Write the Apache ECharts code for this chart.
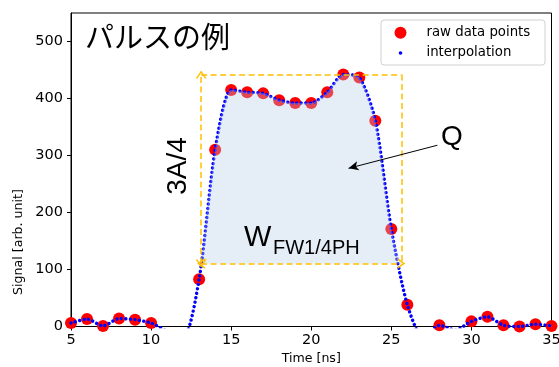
<!DOCTYPE html>
<html>
<head>
<meta charset="utf-8">
<script src="https://cdn.jsdelivr.net/npm/echarts@6/dist/echarts.min.js"></script>
<style>
html,body{margin:0;padding:0;background:#fff;}
#chart{width:559px;height:367px;}
</style>
</head>
<body>
<div id="chart"></div>
<script>
// ---- data ----
const timeNs = [5,6,7,8,9,10,11,12,13,14,15,16,17,18,19,20,21,22,23,24,25,26,27,28,29,30,31,32,33,34,35];
const rawSignal = [6,13,1,14,12,6,-8,-20,83,310,415,411,409,397,392,392,411,442,437,361,171,38,-20,2,-6,9,17,2,0,4,1];
const xTicks = [5,10,15,20,25,30,35];
const yTicks = [0,100,200,300,400,500];
const pulseHeight = 442;            // A
const quarterLevel = 110.5;         // A/4
const fwCross = [13.125, 25.625];   // where the curve crosses A/4
const qArrowFrom = [27.875, 318];
const qArrowTo = [22.33, 277.5];

const rawPairs = timeNs.map((t, i) => [t, rawSignal[i]]);
const fillPairs = [[fwCross[0], quarterLevel]]
  .concat(rawPairs.filter(p => p[0] > fwCross[0] && p[0] < fwCross[1]))
  .concat([[fwCross[1], quarterLevel]]);

const FONT = 'DejaVu Sans';
const ORANGE = '#ffbf00';
const CHEV = 'path://M0,10 L5,0 L10,10 L8.4,10 L5,3.2 L1.6,10 Z';
const SMOOTH = 0.25;

const chart = echarts.init(document.getElementById('chart'), null, {renderer: 'canvas'});
chart.setOption({
  animation: false,
  backgroundColor: '#fff',
  grid: {left: 71, right: 7.5, top: 13, bottom: 40.5, outerBoundsMode: 'none', containLabel: false,
    show: true, borderColor: '#000', borderWidth: 1, backgroundColor: 'transparent'},
  xAxis: {
    type: 'value', min: xTicks[0], max: xTicks[xTicks.length-1], interval: 5,
    name: 'Time [ns]', nameLocation: 'middle', nameGap: 25,
    nameTextStyle: {fontFamily: FONT, fontSize: 12.6, color: '#000'},
    axisLine: {show: true, onZero: false, lineStyle: {color: '#000', width: 1}},
    axisTick: {show: true, length: 4, lineStyle: {color: '#000', width: 1}},
    axisLabel: {fontFamily: FONT, fontSize: 14.5, color: '#000', margin: 6},
    splitLine: {show: false}
  },
  yAxis: {
    type: 'value', min: 0, max: 550, interval: 100,
    axisLine: {show: true, onZero: false, lineStyle: {color: '#000', width: 1}},
    axisTick: {show: true, length: 4, lineStyle: {color: '#000', width: 1}},
    axisLabel: {fontFamily: FONT, fontSize: 14.5, color: '#000', margin: 8, showMaxLabel: false},
    splitLine: {show: false}
  },
  series: [
    {
      name: 'raw data points', type: 'scatter', data: rawPairs, symbolSize: 12,
      itemStyle: {color: '#ff0000', opacity: 1}, z: 2, clip: true
    },
    {
      name: 'interpolation', type: 'line', data: rawPairs, smooth: SMOOTH, showSymbol: false,
      clip: true, z: 3,
      lineStyle: {color: '#0000ff', width: 3.4, type: [0.01, 4.5], cap: 'round'}
    },
    {
      name: 'Q', type: 'line', data: fillPairs, smooth: SMOOTH, showSymbol: false, z: 4,
      lineStyle: {width: 0, opacity: 0},
      areaStyle: {origin: quarterLevel, color: 'rgba(180,204,233,0.49)'},
      markLine: {
        silent: true, z: 6,
        label: {show: false},
        symbol: ['none', 'none'],
        lineStyle: {color: ORANGE, width: 1.5, type: [6, 3.5]},
        data: [
          [{coord: [fwCross[0], pulseHeight], symbol: 'none'}, {coord: [fwCross[1], pulseHeight], symbol: 'none'}],
          [{coord: [fwCross[1], pulseHeight], symbol: 'none'}, {coord: [fwCross[1], quarterLevel], symbol: 'none'}],
          [{coord: [fwCross[0], quarterLevel], symbol: CHEV, symbolSize: [11, 8]}, {coord: [fwCross[0], pulseHeight], symbol: CHEV, symbolSize: [11, 8]}],
          [{coord: [fwCross[0], quarterLevel], symbol: CHEV, symbolSize: [11, 8]}, {coord: [fwCross[1], quarterLevel], symbol: CHEV, symbolSize: [11, 8]}],
          [{coord: qArrowFrom, symbol: 'none', lineStyle: {color: '#000', width: 1, type: 'solid'}},
           {coord: qArrowTo, symbol: 'arrow', symbolSize: [7, 10], lineStyle: {color: '#000', width: 1, type: 'solid'}}]
        ]
      }
    }
  ],
  graphic: [
    {type: 'text', left: 85, top: 22, z: 10, style: {text: 'パルスの例', font: '29px "Noto Sans CJK JP"', fill: '#000'}},
    {type: 'text', x: 178.5, y: 166, rotation: Math.PI/2, z: 10,
      style: {text: '3A/4', font: '28px "Liberation Sans"', fill: '#000', align: 'center', verticalAlign: 'middle'}},
    {type: 'text', x: 452, y: 137, z: 10,
      style: {text: 'Q', font: '28px "Liberation Sans"', fill: '#000', align: 'center', verticalAlign: 'middle'}},
    {type: 'text', x: 244, y: 238, z: 10,
      style: {text: 'W', font: '29px "Liberation Sans"', fill: '#000', align: 'left', verticalAlign: 'middle'}},
    {type: 'text', x: 273, y: 248, z: 10,
      style: {text: 'FW1/4PH', font: '20px "Liberation Sans"', fill: '#000', align: 'left', verticalAlign: 'middle'}},
    {type: 'text', x: 19, y: 242, rotation: Math.PI/2, z: 10,
      style: {text: 'Signal [arb. unit]', font: '12.6px "DejaVu Sans"', fill: '#000', align: 'center', verticalAlign: 'middle'}},
    // legend
    {type: 'rect', shape: {x: 381, y: 20, width: 164, height: 45, r: 3}, z: 20,
      style: {fill: 'rgba(255,255,255,0.8)', stroke: '#d0d0d0', lineWidth: 1}},
    {type: 'circle', shape: {cx: 400.5, cy: 32.7, r: 6}, z: 21, style: {fill: '#ff0000'}},
    {type: 'circle', shape: {cx: 400.5, cy: 53, r: 1.8}, z: 21, style: {fill: '#0000ff'}},
    {type: 'text', x: 426.5, y: 32.7, z: 21,
      style: {text: 'raw data points', font: '13.3px "DejaVu Sans"', fill: '#000', verticalAlign: 'middle'}},
    {type: 'text', x: 426.5, y: 52.5, z: 21,
      style: {text: 'interpolation', font: '13.3px "DejaVu Sans"', fill: '#000', verticalAlign: 'middle'}}
  ]
});
</script>
</body>
</html>
